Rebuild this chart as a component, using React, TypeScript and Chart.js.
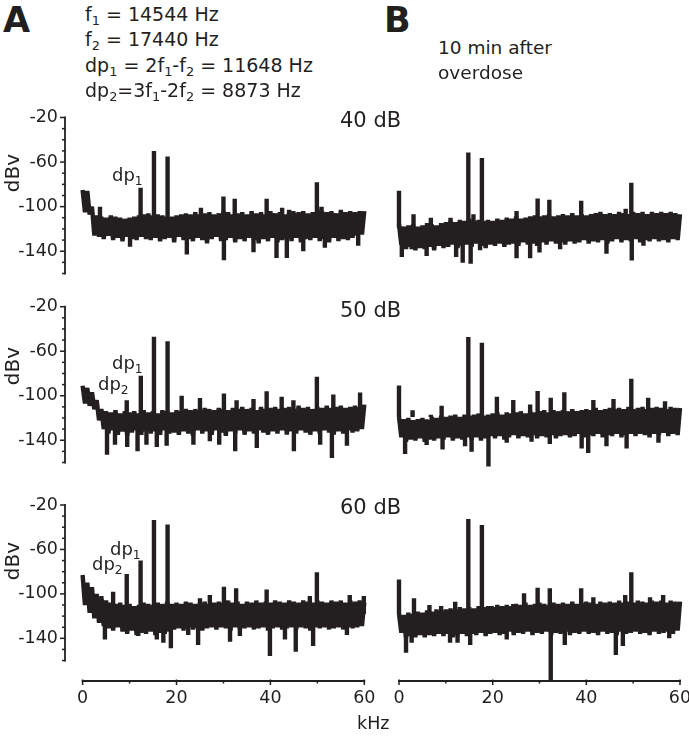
import React, { useEffect, useRef } from 'react';
import { Chart, registerables } from 'chart.js';

Chart.register(...registerables);

const INK = '#231f20';
const FONT = '"DejaVu Sans", "Liberation Sans", Arial, sans-serif';

// ---------- axis ticks ----------
const FREQ_STEP_KHZ = 0.5;
const X_TICK_LABELS = [0, 20, 40, 60];
const X_MINOR_TICKS = [10, 30, 50];
const Y_TICK_LABELS = [-20, -60, -100, -140];
const Y_MINOR_TICKS = [-30, -40, -50, -70, -80, -90, -110, -120, -130, -150, -160];

// ---------- noise floor (dBV every 0.5 kHz from 0 to 60 kHz) ----------
const NOISE_A40 = [
  -85, -105, -86, -107, -100, -126, -108, -127, -109, -129,
  -110, -126, -108, -130, -109, -128, -110, -131, -111, -127,
  -110, -129, -109, -130, -108, -127, -107, -129, -106, -130,
  -108, -128, -107, -131, -108, -129, -109, -128, -109, -132,
  -108, -127, -107, -130, -106, -129, -107, -131, -105, -128,
  -107, -130, -106, -133, -105, -129, -107, -127, -106, -131,
  -104, -130, -105, -128, -107, -132, -106, -129, -105, -131,
  -107, -128, -104, -130, -106, -133, -105, -129, -107, -131,
  -104, -128, -106, -132, -105, -130, -107, -129, -103, -131,
  -106, -128, -105, -132, -104, -129, -106, -130, -105, -128,
  -102, -131, -104, -129, -105, -132, -104, -128, -106, -131,
  -103, -129, -105, -130, -104, -128, -105, -126, -104, -125,
  -104,
];
const NOISE_B40 = [
  -115, -133, -117, -137, -116, -135, -115, -138, -117, -136,
  -116, -137, -114, -135, -115, -138, -116, -134, -114, -136,
  -113, -135, -112, -133, -113, -136, -111, -134, -112, -133,
  -110, -135, -112, -132, -111, -134, -112, -136, -111, -133,
  -112, -134, -110, -132, -111, -135, -109, -133, -110, -132,
  -108, -134, -110, -131, -109, -133, -108, -132, -107, -134,
  -108, -131, -107, -133, -106, -130, -108, -132, -107, -131,
  -106, -133, -107, -130, -105, -132, -107, -131, -106, -129,
  -107, -132, -106, -130, -105, -131, -104, -129, -106, -132,
  -105, -130, -106, -128, -104, -131, -105, -129, -106, -130,
  -104, -128, -105, -131, -104, -129, -106, -130, -104, -128,
  -105, -130, -104, -129, -105, -131, -104, -128, -105, -129,
  -106,
];
const NOISE_A50 = [
  -91, -107, -93, -109, -97, -112, -104, -122, -112, -130,
  -114, -134, -115, -131, -113, -135, -116, -132, -114, -136,
  -115, -133, -114, -131, -116, -135, -113, -132, -115, -134,
  -114, -132, -116, -135, -113, -131, -114, -134, -115, -133,
  -113, -135, -114, -132, -112, -134, -113, -136, -112, -131,
  -113, -134, -111, -132, -112, -135, -113, -131, -111, -133,
  -112, -136, -113, -132, -111, -134, -112, -131, -110, -135,
  -112, -132, -111, -134, -113, -131, -110, -133, -112, -135,
  -111, -132, -110, -134, -112, -131, -111, -135, -110, -132,
  -112, -134, -109, -131, -111, -133, -110, -135, -112, -132,
  -110, -134, -111, -131, -109, -133, -111, -135, -110, -132,
  -109, -134, -111, -131, -110, -133, -109, -132, -110, -130,
  -108,
];
const NOISE_B50 = [
  -118, -136, -120, -140, -119, -138, -121, -139, -120, -137,
  -119, -140, -121, -138, -118, -139, -119, -137, -117, -138,
  -118, -136, -117, -139, -116, -137, -118, -138, -116, -136,
  -117, -138, -116, -136, -115, -139, -117, -137, -116, -135,
  -115, -137, -114, -135, -116, -138, -114, -136, -115, -134,
  -114, -137, -113, -135, -115, -136, -113, -134, -114, -137,
  -113, -135, -112, -136, -114, -134, -112, -137, -113, -135,
  -112, -134, -113, -136, -111, -135, -113, -133, -112, -136,
  -111, -134, -112, -135, -110, -133, -112, -136, -111, -134,
  -110, -135, -111, -133, -110, -136, -111, -134, -109, -133,
  -111, -135, -110, -133, -109, -134, -111, -136, -110, -133,
  -109, -134, -110, -132, -111, -135, -109, -133, -110, -134,
  -110,
];
const NOISE_A60 = [
  -83, -110, -90, -117, -94, -122, -100, -126, -104, -129,
  -106, -131, -108, -133, -109, -130, -108, -134, -110, -136,
  -109, -133, -111, -137, -110, -135, -108, -136, -109, -134,
  -110, -137, -108, -135, -109, -136, -107, -134, -109, -132,
  -108, -131, -109, -133, -107, -130, -108, -132, -109, -131,
  -108, -133, -107, -131, -109, -130, -108, -132, -107, -130,
  -108, -131, -106, -133, -108, -130, -107, -132, -109, -131,
  -107, -130, -108, -132, -106, -131, -108, -130, -107, -133,
  -108, -131, -106, -130, -107, -132, -108, -131, -106, -130,
  -107, -132, -108, -130, -106, -131, -107, -133, -108, -130,
  -106, -131, -107, -130, -108, -132, -106, -131, -107, -130,
  -106, -132, -108, -130, -106, -131, -107, -130, -106, -129,
  -108,
];
const NOISE_B60 = [
  -118, -135, -119, -140, -117, -138, -118, -139, -116, -137,
  -117, -139, -115, -137, -116, -138, -114, -136, -115, -138,
  -114, -136, -113, -139, -114, -137, -112, -136, -113, -138,
  -112, -136, -113, -137, -111, -135, -112, -138, -111, -136,
  -112, -135, -110, -137, -111, -136, -110, -134, -111, -137,
  -109, -135, -110, -136, -108, -134, -110, -137, -109, -135,
  -108, -136, -109, -134, -110, -137, -108, -135, -109, -136,
  -108, -134, -109, -137, -107, -135, -109, -136, -108, -134,
  -107, -136, -108, -135, -109, -137, -107, -134, -108, -136,
  -107, -135, -108, -137, -106, -134, -108, -136, -107, -135,
  -108, -134, -106, -136, -107, -135, -108, -137, -106, -134,
  -107, -136, -106, -135, -108, -134, -106, -136, -107, -133,
  -107,
];

// ---------- spectral lines: [kHz, dBV] ----------
const PEAKS_A40 = [[3.7, -100], [12.35, -83], [15.2, -50], [18.1, -55], [25.2, -101], [30.0, -91], [32.4, -93], [39.2, -93], [42.5, -101], [44.9, -104], [49.9, -78], [50.9, -100]];
const DIPS_A40 = [[10.1, -136], [22.2, -143], [30.1, -148], [36.4, -141], [41.3, -146], [43.5, -146], [47.0, -140], [51.6, -137], [58.7, -135]];
const PEAKS_B40 = [[0, -85], [3.1, -106], [6.8, -109], [11.0, -109], [14.8, -51], [15.9, -106], [17.7, -56], [25.1, -103], [29.6, -92], [32.1, -93], [38.9, -94], [48.4, -101], [49.6, -78]];
const DIPS_B40 = [[0.6, -144], [2.7, -137], [5.9, -143], [12.2, -144], [13.6, -149], [15.3, -150], [17.3, -138], [25.1, -145], [28.0, -145], [30.0, -140], [34.4, -137], [44.3, -141], [49.7, -147], [52.2, -134]];
const PEAKS_A50 = [[9.4, -104], [12.4, -82], [15.2, -47], [18.1, -51], [21.1, -100], [25.0, -102], [30.1, -98], [32.8, -104], [36.4, -103], [39.2, -96], [42.4, -101], [44.9, -104], [49.9, -83], [53.4, -99], [59.1, -97]];
const DIPS_A50 = [[5.2, -153], [6.9, -144], [9.5, -146], [11.7, -150], [13.6, -144], [15.8, -146], [17.9, -145], [23.6, -144], [27.1, -141], [29.1, -144], [32.5, -150], [37.1, -147], [45.0, -150], [50.6, -144], [53.1, -156], [56.3, -145]];
const PEAKS_B50 = [[0, -90], [2.9, -112], [6.8, -116], [9.1, -108], [14.8, -47], [17.7, -52], [20.9, -100], [24.4, -103], [28.0, -107], [29.6, -95], [32.4, -101], [35.3, -96], [41.5, -103], [45.8, -102], [49.6, -84], [53.2, -101], [56.8, -104]];
const DIPS_B50 = [[1.3, -151], [5.9, -143], [9.3, -147], [14.1, -144], [15.5, -149], [19.1, -162], [23.0, -141], [28.3, -140], [32.2, -142], [39.0, -146], [40.4, -150], [44.3, -144], [48.6, -146], [55.4, -141]];
const PEAKS_A60 = [[4.0, -102], [6.5, -98], [9.4, -82], [12.35, -70], [15.2, -33.5], [18.1, -37.5], [25.0, -104], [27.1, -101], [30.1, -93.5], [32.7, -95], [39.2, -96], [48.4, -102], [49.9, -80.5], [56.9, -101], [59.9, -102]];
const DIPS_A60 = [[4.75, -141], [11.85, -138], [15.8, -141], [17.2, -144], [18.8, -149], [22.5, -137], [24.6, -146], [31.4, -143], [33.5, -138], [39.9, -156], [43.1, -141], [45.4, -152], [49.1, -147], [56.3, -137]];
const PEAKS_B60 = [[0, -87], [3.2, -104], [6.5, -110], [9.0, -111], [12.0, -107], [14.8, -32.5], [17.7, -38], [19.8, -111], [24.4, -109], [26.7, -99.5], [29.6, -94.5], [32.2, -95], [38.9, -95], [41.5, -103], [48.3, -101], [49.6, -80.5], [53.6, -103], [56.4, -101]];
const DIPS_B60 = [[1.5, -153], [2.7, -144], [10.9, -144], [12.5, -144], [15.2, -146], [23.0, -141], [32.4, -178], [35.4, -146], [46.3, -155], [47.8, -147], [57.7, -140]];

// ---------- layout (pixels) ----------
const ROWS = [
  { top: 117.5, bottom: 275.0, yMin: -160 },
  { top: 306.7, bottom: 464.2, yMin: -160 },
  { top: 505.0, bottom: 681.0, yMin: -178.4 },
];
const COLS = [
  { left: 65, right: 364.3, xMin: -3.75 },
  { left: 399, right: 680, xMin: 0 },
];
const SIDE_PAD = 20;
const TOP_PAD = 20;
const BOTTOM_PAD = 16;
const X_AXIS_H = 45;
const Y_AXIS_W = 65;
const LINE_W = 4.4;
const PEAK_BASE = -118;
const DIP_BASE = -120;

type Spec = { row: number; col: number; noise: number[]; peaks: number[][]; dips: number[][] };
const PANELS: Spec[] = [
  { row: 0, col: 0, noise: NOISE_A40, peaks: PEAKS_A40, dips: DIPS_A40 },
  { row: 0, col: 1, noise: NOISE_B40, peaks: PEAKS_B40, dips: DIPS_B40 },
  { row: 1, col: 0, noise: NOISE_A50, peaks: PEAKS_A50, dips: DIPS_A50 },
  { row: 1, col: 1, noise: NOISE_B50, peaks: PEAKS_B50, dips: DIPS_B50 },
  { row: 2, col: 0, noise: NOISE_A60, peaks: PEAKS_A60, dips: DIPS_A60 },
  { row: 2, col: 1, noise: NOISE_B60, peaks: PEAKS_B60, dips: DIPS_B60 },
];

const offsetAxes = {
  id: 'offsetAxes',
  afterDraw(chart: any, _args: any, opts: any) {
    const { ctx, chartArea, scales } = chart;
    const x = scales.x;
    const y = scales.y;
    ctx.save();
    ctx.strokeStyle = INK;
    ctx.lineWidth = 1.8;
    ctx.lineCap = 'butt';
    if (opts.y) {
      const l = chartArea.left;
      ctx.beginPath();
      ctx.moveTo(l, y.getPixelForValue(Y_TICK_LABELS[0]) - 0.9);
      ctx.lineTo(l, y.getPixelForValue(-160) + 0.9);
      ctx.stroke();
      ctx.lineWidth = 1.5;
      for (const v of Y_TICK_LABELS) {
        const py = y.getPixelForValue(v);
        ctx.beginPath(); ctx.moveTo(l - 5, py); ctx.lineTo(l, py); ctx.stroke();
      }
      for (const v of Y_MINOR_TICKS) {
        const py = y.getPixelForValue(v);
        ctx.beginPath(); ctx.moveTo(l - 3, py); ctx.lineTo(l, py); ctx.stroke();
      }
    }
    if (opts.x) {
      const b = chartArea.bottom;
      ctx.lineWidth = 1.8;
      ctx.beginPath();
      ctx.moveTo(x.getPixelForValue(0) - 0.9, b);
      ctx.lineTo(x.getPixelForValue(60) + 0.9, b);
      ctx.stroke();
      ctx.lineWidth = 1.5;
      for (const v of X_TICK_LABELS) {
        const px = x.getPixelForValue(v);
        ctx.beginPath(); ctx.moveTo(px, b - 1.5); ctx.lineTo(px, b + 4); ctx.stroke();
      }
      for (const v of X_MINOR_TICKS) {
        const px = x.getPixelForValue(v);
        ctx.beginPath(); ctx.moveTo(px, b - 0.5); ctx.lineTo(px, b + 2.5); ctx.stroke();
      }
    }
    ctx.restore();
  },
};

function Panel({ p }: { p: Spec }) {
  const ref = useRef<HTMLCanvasElement>(null);
  const row = ROWS[p.row];
  const col = COLS[p.col];
  const isLeft = p.col === 0;
  const isBottom = p.row === 2;
  const canvasLeft = isLeft ? 0 : col.left - SIDE_PAD;
  const width = Math.round(col.right + SIDE_PAD - canvasLeft);
  const padL = isLeft ? 0 : SIDE_PAD;
  const padR = width - (col.right - canvasLeft);
  const top = Math.round(row.top - TOP_PAD);
  const padT = row.top - top;
  const height = Math.round(row.bottom - top + (isBottom ? X_AXIS_H : BOTTOM_PAD));
  const padB = height - (row.bottom - top) - (isBottom ? X_AXIS_H : 0);

  useEffect(() => {
    const noise = p.noise.map((v, i) => ({ x: i * FREQ_STEP_KHZ, y: v }));
    const spikes: any[] = [];
    for (const [f, v] of p.peaks) spikes.push({ x: f, y: PEAK_BASE }, { x: f, y: v }, { x: f, y: null });
    for (const [f, v] of p.dips) spikes.push({ x: f, y: DIP_BASE }, { x: f, y: v }, { x: f, y: null });
    const tickFont = { family: FONT, size: 17.5 };
    const chart = new Chart(ref.current as HTMLCanvasElement, {
      type: 'line',
      data: {
        datasets: [
          { data: noise, borderColor: INK, borderWidth: LINE_W, pointRadius: 0, borderJoinStyle: 'bevel', tension: 0, clip: false } as any,
          { data: spikes, borderColor: INK, borderWidth: LINE_W, pointRadius: 0, borderCapStyle: 'butt', spanGaps: false, tension: 0, clip: false } as any,
        ],
      },
      options: {
        animation: false,
        responsive: false,
        devicePixelRatio: 1,
        events: [],
        layout: { padding: { left: padL, right: padR, top: padT, bottom: padB } },
        plugins: {
          legend: { display: false },
          tooltip: { enabled: false },
          offsetAxes: { y: isLeft, x: isBottom },
        } as any,
        scales: {
          x: {
            type: 'linear',
            min: col.xMin,
            max: 60,
            display: isBottom,
            border: { display: false },
            grid: { display: false, drawTicks: false },
            ticks: { color: INK, font: tickFont, padding: 7, maxRotation: 0, autoSkip: false, callback: (v: any) => String(v) },
            afterBuildTicks: (s: any) => { s.ticks = X_TICK_LABELS.map((v) => ({ value: v })); },
            afterFit: (s: any) => { s.height = isBottom ? X_AXIS_H : 0; },
          },
          y: {
            type: 'linear',
            min: row.yMin,
            max: -20,
            display: isLeft,
            border: { display: false },
            grid: { display: false, drawTicks: false },
            ticks: { color: INK, font: tickFont, padding: 7, autoSkip: false, callback: (v: any) => String(v) },
            afterBuildTicks: (s: any) => { s.ticks = Y_TICK_LABELS.map((v) => ({ value: v })); },
            afterFit: (s: any) => { s.width = isLeft ? Y_AXIS_W : 0; },
          },
        } as any,
      },
      plugins: [offsetAxes as any],
    });
    return () => chart.destroy();
  }, []);

  return (
    <canvas
      ref={ref}
      width={width}
      height={height}
      style={{ position: 'absolute', left: canvasLeft, top, width, height }}
    />
  );
}

function Sub({ children }: { children: React.ReactNode }) {
  return <span style={{ fontSize: '0.68em', position: 'relative', top: '0.33em' }}>{children}</span>;
}

function Txt({ x, base, size, bold, children }: { x: number; base: number; size: number; bold?: boolean; children: React.ReactNode }) {
  return (
    <div
      style={{
        position: 'absolute',
        left: x,
        top: base - 0.846 * size,
        fontSize: size,
        lineHeight: `${size}px`,
        fontWeight: bold ? 700 : 400,
        whiteSpace: 'nowrap',
        fontFamily: FONT,
        color: INK,
      }}
    >
      {children}
    </div>
  );
}

function YTitle({ cy }: { cy: number }) {
  return (
    <div
      style={{
        position: 'absolute',
        left: 12,
        top: cy,
        transform: 'translate(-50%, -50%) rotate(-90deg)',
        fontSize: 20,
        lineHeight: '20px',
        whiteSpace: 'nowrap',
        fontFamily: FONT,
        color: INK,
      }}
    >
      dBv
    </div>
  );
}

export default function App() {
  return (
    <div style={{ position: 'absolute', left: 0, top: 0, width: 689, height: 744, overflow: 'hidden', background: '#fff' }}>
      {PANELS.map((p, i) => (
        <Panel key={i} p={p} />
      ))}
      <Txt x={3} base={33} size={35} bold>A</Txt>
      <Txt x={384} base={33} size={35} bold>B</Txt>
      <Txt x={85} base={21} size={19}>f<Sub>1</Sub> = 14544 Hz</Txt>
      <Txt x={85} base={46} size={19}>f<Sub>2</Sub> = 17440 Hz</Txt>
      <Txt x={85} base={72} size={19}>dp<Sub>1</Sub> = 2f<Sub>1</Sub>-f<Sub>2</Sub> = 11648 Hz</Txt>
      <Txt x={85} base={97} size={19}>dp<Sub>2</Sub>=3f<Sub>1</Sub>-2f<Sub>2</Sub> = 8873 Hz</Txt>
      <Txt x={438} base={54.5} size={18.5}>10 min after</Txt>
      <Txt x={438} base={80} size={18.5}>overdose</Txt>
      <Txt x={340} base={128} size={21}>40 dB</Txt>
      <Txt x={340} base={317.5} size={21}>50 dB</Txt>
      <Txt x={340} base={515} size={21}>60 dB</Txt>
      <Txt x={112} base={181} size={18}>dp<Sub>1</Sub></Txt>
      <Txt x={112} base={369} size={18}>dp<Sub>1</Sub></Txt>
      <Txt x={98} base={390} size={18}>dp<Sub>2</Sub></Txt>
      <Txt x={110} base={555} size={18}>dp<Sub>1</Sub></Txt>
      <Txt x={92} base={570} size={18}>dp<Sub>2</Sub></Txt>
      <YTitle cy={173} />
      <YTitle cy={366} />
      <YTitle cy={561} />
      <Txt x={357} base={730} size={17.5}>kHz</Txt>
    </div>
  );
}
